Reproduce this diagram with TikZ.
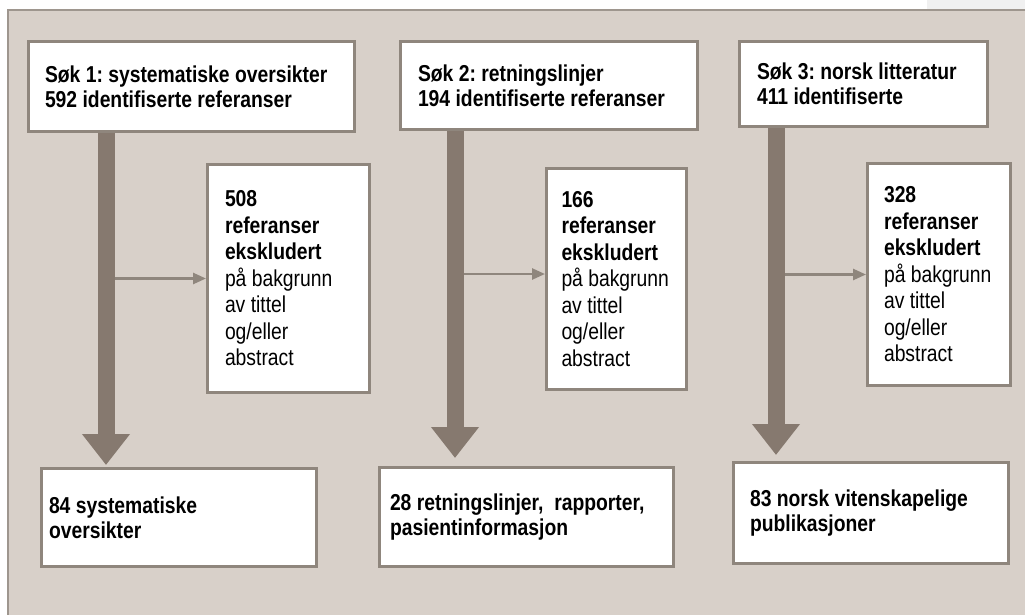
\documentclass[tikz,border=0pt]{standalone}
\usepackage{fontspec}
\setmainfont{Liberation Sans}[FakeStretch=0.84]
\usetikzlibrary{arrows.meta,positioning,calc}
\definecolor{panel}{HTML}{D8D0C9}
\definecolor{panelline}{HTML}{9E968E}
\definecolor{boxline}{HTML}{8F867D}
\definecolor{flow}{HTML}{86796F}
\hyphenpenalty=10000
\exhyphenpenalty=10000
\frenchspacing

\begin{document}
\begin{tikzpicture}[x=1pt,y=-1pt,
    box/.style={draw=boxline,line width=3pt,fill=white,align=flush left,inner sep=0pt,font=\fontsize{23}{25}\selectfont\bfseries},
    exbox/.style={box,font=\fontsize{23}{26.5}\selectfont},
    bigflow/.style={draw=flow,line width=17pt,-{Triangle[width=46pt,length=31pt]}},
    sideflow/.style={draw=boxline,line width=2.5pt,-{Triangle[width=11pt,length=13pt]}}]
    \useasboundingbox (0,0) rectangle (1025,615);
    % background panel
    \fill[black!6] (927,0) rectangle (1025,9);
    \fill[panel] (8,10) rectangle (1025,615);
    \draw[panelline,line width=2pt] (8,615) -- (8,10) -- (1025,10);
    % searches
    \node[box,minimum width=326pt,minimum height=90pt,text width=293pt] (s1) at (191.5,86.5) {Søk 1: systematiske oversikter\\592 identifiserte referanser};
    \node[box,minimum width=297pt,minimum height=88pt,text width=262pt] (s2) at (549,85.5) {Søk 2: retningslinjer\\194 identifiserte referanser};
    \node[box,minimum width=248pt,minimum height=85pt,text width=213pt] (s3) at (863.5,84) {Søk 3: norsk litteratur\\411 identifiserte};
    % excluded
    \node[exbox,minimum width=162pt,minimum height=228pt,text width=127pt] (e1) at (288.5,278.5) {\textbf{508}\\\textbf{referanser}\\\textbf{ekskludert}\\på bakgrunn\\av tittel\\og/eller\\abstract};
    \node[exbox,minimum width=140pt,minimum height=221pt,text width=110pt] (e2) at (616.5,279) {\textbf{166}\\\textbf{referanser}\\\textbf{ekskludert}\\på bakgrunn\\av tittel\\og/eller\\abstract};
    \node[exbox,minimum width=143pt,minimum height=222pt,text width=110pt] (e3) at (939,274.5) {\textbf{328}\\\textbf{referanser}\\\textbf{ekskludert}\\på bakgrunn\\av tittel\\og/eller\\abstract};
    % results
    \node[box,minimum width=275pt,minimum height=98pt,text width=260pt] (r1) at (179,517.5) {84 systematiske\\oversikter};
    \node[box,minimum width=294pt,minimum height=99pt,text width=273pt] (r2) at (526.5,517) {28 retningslinjer,\ \ rapporter,\\pasientinformasjon};
    \node[box,minimum width=275pt,minimum height=101pt,text width=242pt] (r3) at (871,513) {83 norsk vitenskapelige\\publikasjoner};
    % flow columns
    \coordinate (c1) at (106,0);
    \coordinate (c2) at (455,0);
    \coordinate (c3) at (776,0);
    \coordinate (e2in) at ([yshift=5pt]e2.west);
    \draw[sideflow] (c1 |- e1.west) -- (e1.west);
    \draw[sideflow] (c2 |- e2in) -- (e2in);
    \draw[sideflow] (c3 |- e3.west) -- (e3.west);
    \draw[bigflow,shorten >=2pt] (c1 |- s1.south) -- (c1 |- r1.north);
    \draw[bigflow,shorten >=8pt] (c2 |- s2.south) -- (c2 |- r2.north);
    \draw[bigflow,shorten >=6pt] (c3 |- s3.south) -- (c3 |- r3.north);
\end{tikzpicture}
\end{document}
